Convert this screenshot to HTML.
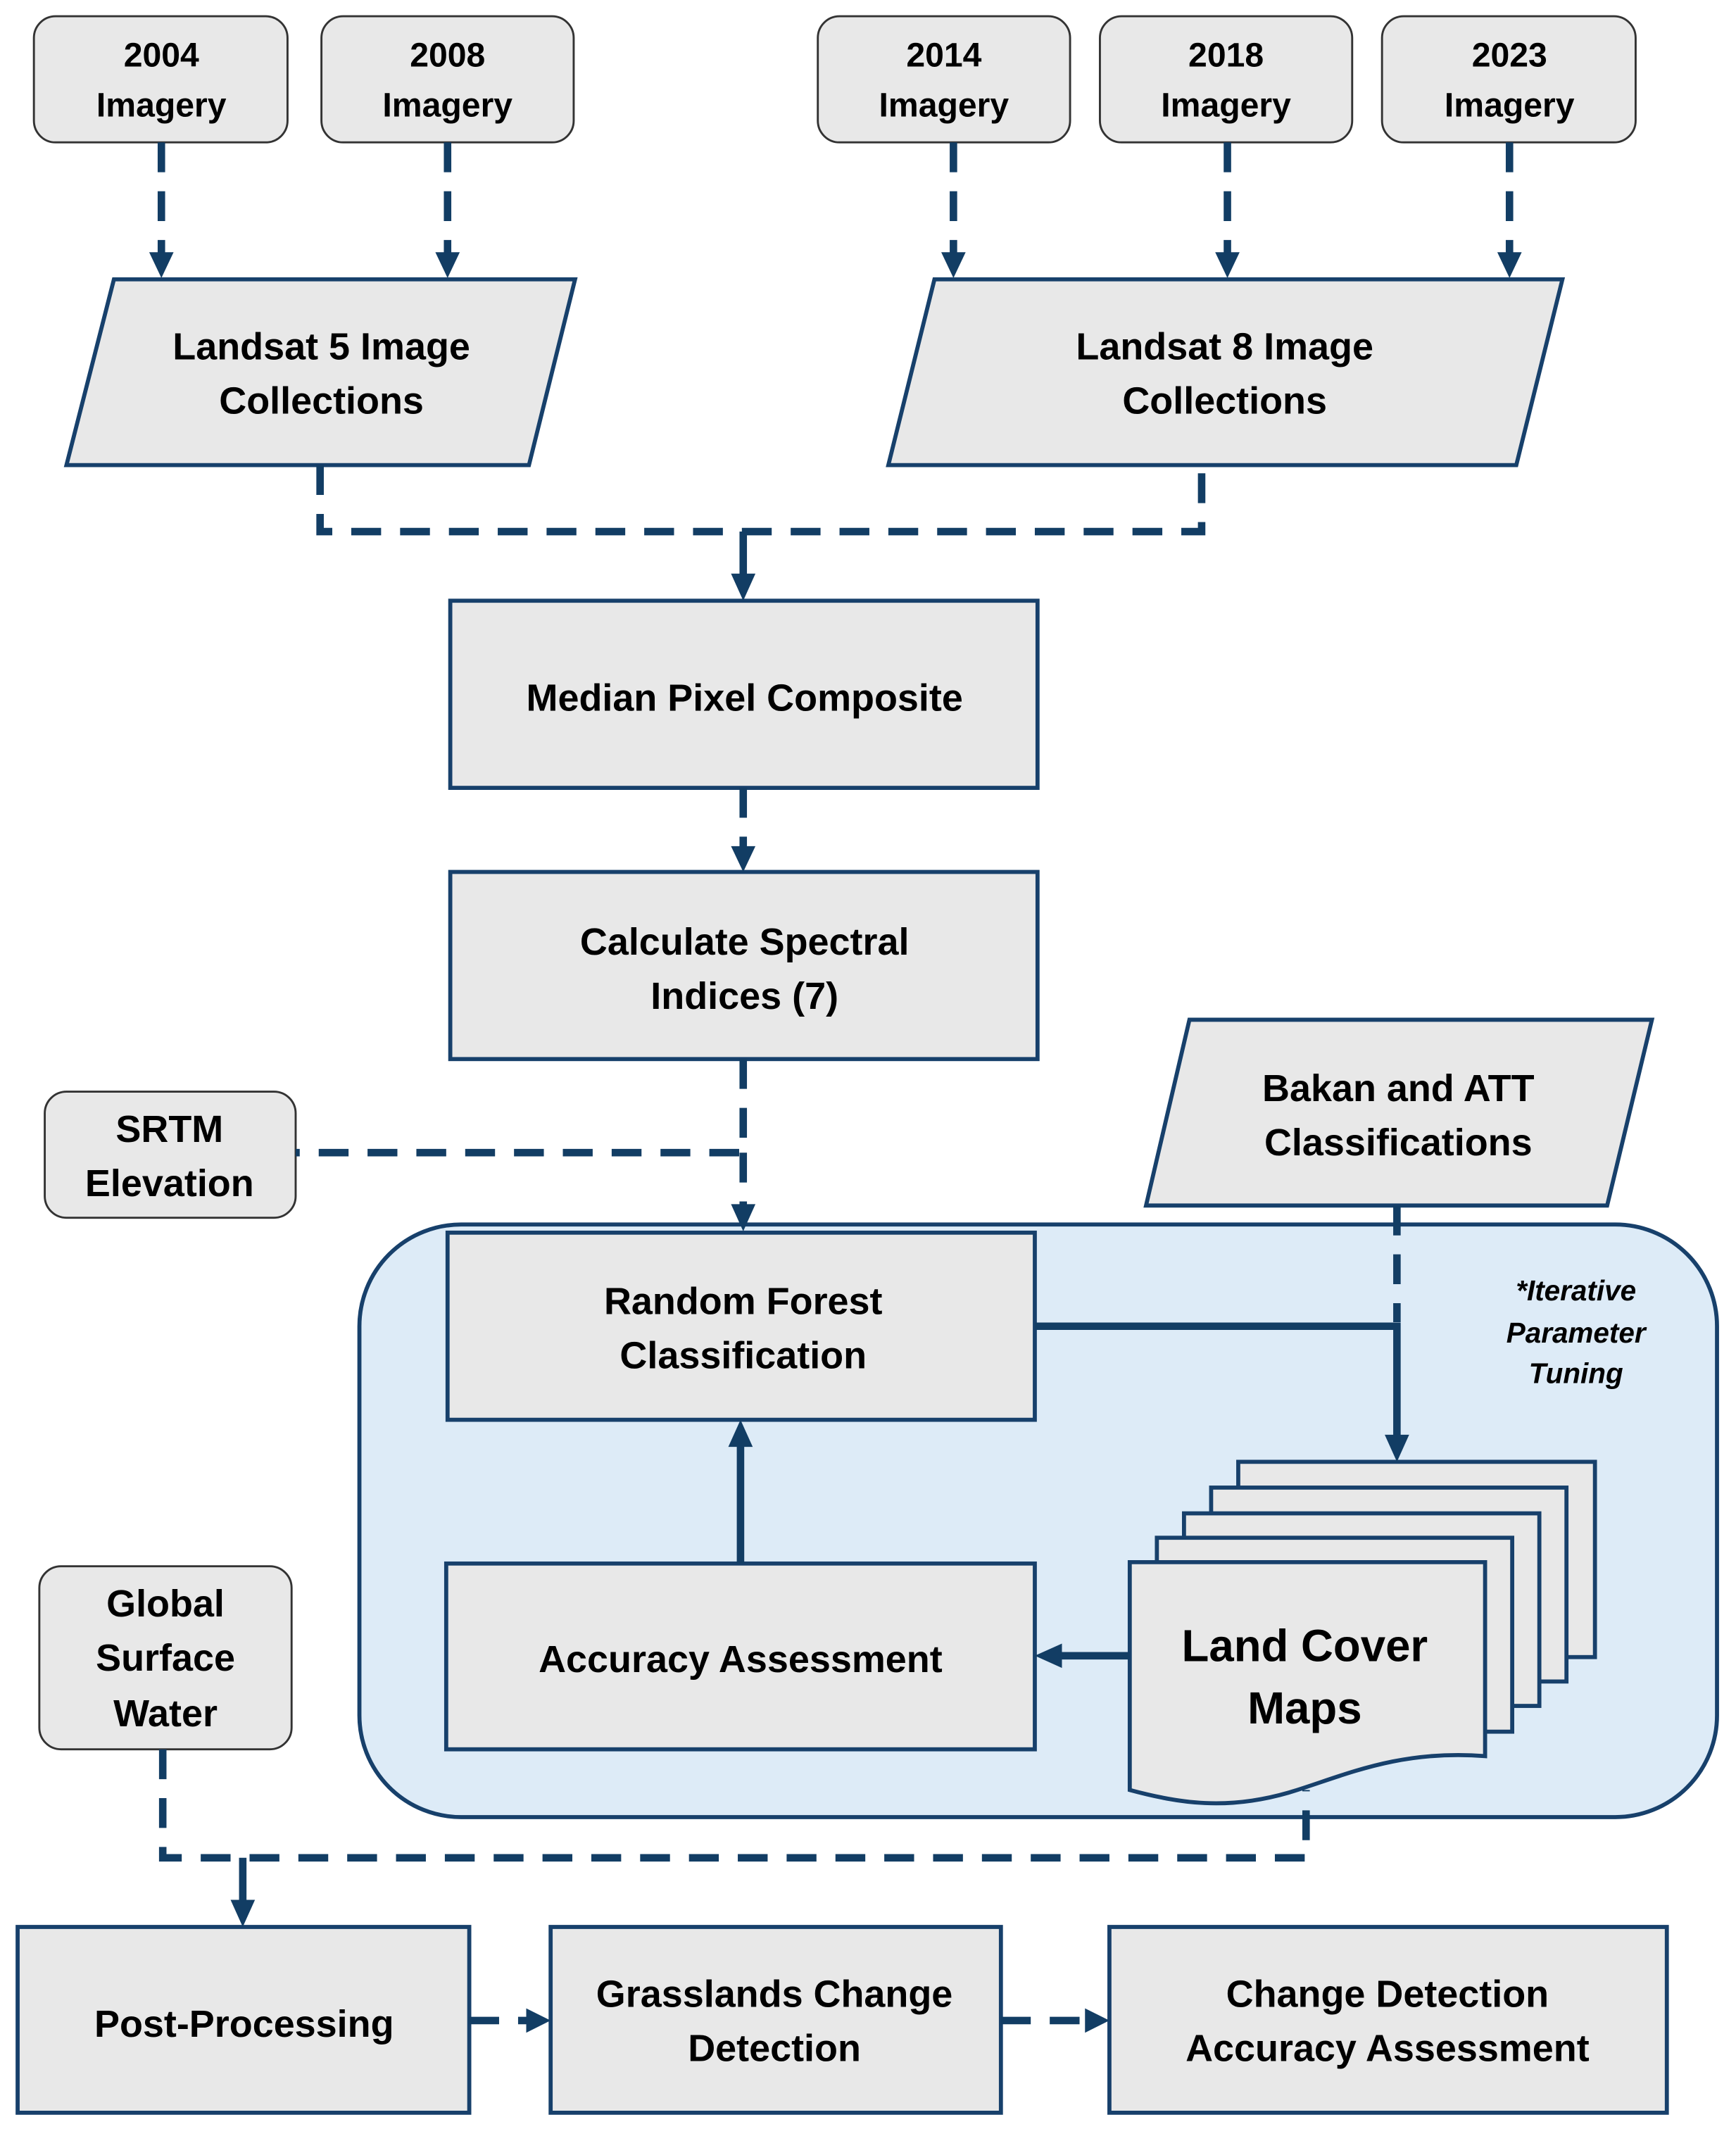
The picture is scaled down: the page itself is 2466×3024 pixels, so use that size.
<!DOCTYPE html>
<html><head><meta charset="utf-8"><style>
html,body{margin:0;padding:0;background:#fff}
svg{display:block}
text{font-family:"Liberation Sans",sans-serif;font-weight:bold;fill:#000;text-anchor:middle}
</style></head><body>
<svg width="2466" height="3024" viewBox="0 0 1280 1570" preserveAspectRatio="none" xmlns="http://www.w3.org/2000/svg">
<g fill="#e8e8e8" stroke="#17406b" stroke-width="3">
<rect x="25" y="12" width="187" height="93" rx="16" stroke="#333" stroke-width="1.5"/>
<rect x="237" y="12" width="186" height="93" rx="16" stroke="#333" stroke-width="1.5"/>
<rect x="603" y="12" width="186" height="93" rx="16" stroke="#333" stroke-width="1.5"/>
<rect x="811" y="12" width="186" height="93" rx="16" stroke="#333" stroke-width="1.5"/>
<rect x="1019" y="12" width="187" height="93" rx="16" stroke="#333" stroke-width="1.5"/>
<polygon points="84,206 424,206 390,343 49,343"/>
<polygon points="689,206 1152,206 1118,343 655,343"/>
<rect x="332" y="443" width="433" height="138"/>
<rect x="332" y="643" width="433" height="138"/>
<rect x="33" y="805" width="185" height="93" rx="16" stroke="#333" stroke-width="1.5"/>
<polygon points="877,752 1218,752 1185,889 845,889"/>
<rect x="265" y="903" width="1001" height="437" rx="75" fill="#ddebf7"/>
<rect x="330" y="909" width="433" height="138"/>
<rect x="329" y="1153" width="434" height="137"/>
<rect x="913" y="1078" width="263" height="144"/>
<rect x="893" y="1097" width="262" height="143"/>
<rect x="873" y="1116" width="262" height="142"/>
<rect x="853" y="1134" width="262" height="143"/>
<path d="M833,1152 L1095,1152 L1095,1295 C1030,1290 990,1310 950,1322 C905,1335 870,1330 833,1320 Z"/>
<rect x="29" y="1155" width="186" height="135" rx="16" stroke="#333" stroke-width="1.5"/>
<rect x="13" y="1421" width="333" height="137"/>
<rect x="406" y="1421" width="332" height="137"/>
<rect x="818" y="1421" width="411" height="137"/>
</g>
<g fill="none" stroke="#123d64" stroke-width="5.5">
<g stroke-dasharray="22 14">
<path d="M119,105 V188"/><path d="M330,105 V188"/><path d="M703,105 V188"/><path d="M905,105 V188"/><path d="M1113,105 V188"/>
<path d="M236,343 V392 H886 V343"/>
<path d="M548,581 V626"/>
<path d="M548,781 V850 H218"/>
<path d="M548,850 V890"/>
<path d="M1030,889 V975"/>
<path d="M120,1290 V1370 H963 V1320"/>
<path d="M346,1490 H390"/><path d="M738,1490 H800"/>
</g>
<path d="M548,392 V426"/>
<path d="M763,978 H1030 V1062"/>
<path d="M546,1153 V1064"/>
<path d="M833,1221 H780"/>
<path d="M179,1370 V1404"/>
</g>
<g fill="#123d64">
<polygon points="110,186 128,186 119,205"/><polygon points="321,186 339,186 330,205"/>
<polygon points="694,186 712,186 703,205"/><polygon points="896,186 914,186 905,205"/>
<polygon points="1104,186 1122,186 1113,205"/>
<polygon points="539,423 557,423 548,443"/><polygon points="539,624 557,624 548,643"/>
<polygon points="539,888 557,888 548,908"/><polygon points="1021,1058 1039,1058 1030,1078"/>
<polygon points="537,1067 555,1067 546,1047"/><polygon points="783,1212 783,1230 763,1221"/>
<polygon points="170,1401 188,1401 179,1421"/>
<polygon points="388,1481 388,1499 406,1490"/><polygon points="800,1481 800,1499 818,1490"/>
</g>
<g font-size="25">
<text x="119" y="49">2004</text><text x="119" y="86">Imagery</text>
<text x="330" y="49">2008</text><text x="330" y="86">Imagery</text>
<text x="696" y="49">2014</text><text x="696" y="86">Imagery</text>
<text x="904" y="49">2018</text><text x="904" y="86">Imagery</text>
<text x="1113" y="49">2023</text><text x="1113" y="86">Imagery</text>
</g>
<g font-size="28">
<text x="237" y="265">Landsat 5 Image</text><text x="237" y="305">Collections</text>
<text x="903" y="265">Landsat 8 Image</text><text x="903" y="305">Collections</text>
<text x="549" y="524">Median Pixel Composite</text>
<text x="549" y="704">Calculate Spectral</text><text x="549" y="744">Indices (7)</text>
<text x="125" y="842">SRTM</text><text x="125" y="882">Elevation</text>
<text x="1031" y="812">Bakan and ATT</text><text x="1031" y="852">Classifications</text>
<text x="548" y="969">Random Forest</text><text x="548" y="1009">Classification</text>
<text x="546" y="1233">Accuracy Assessment</text>
<text x="122" y="1192">Global</text><text x="122" y="1232">Surface</text><text x="122" y="1273">Water</text>
<text x="180" y="1502">Post-Processing</text>
<text x="571" y="1480">Grasslands Change</text><text x="571" y="1520">Detection</text>
<text x="1023" y="1480">Change Detection</text><text x="1023" y="1520">Accuracy Assessment</text>
</g>
<g font-size="33"><text x="962" y="1225">Land Cover</text><text x="962" y="1271">Maps</text></g>
<g font-size="21" font-style="italic">
<text x="1162" y="959">*Iterative</text><text x="1162" y="990">Parameter</text><text x="1162" y="1020">Tuning</text>
</g>
</svg>
</body></html>
